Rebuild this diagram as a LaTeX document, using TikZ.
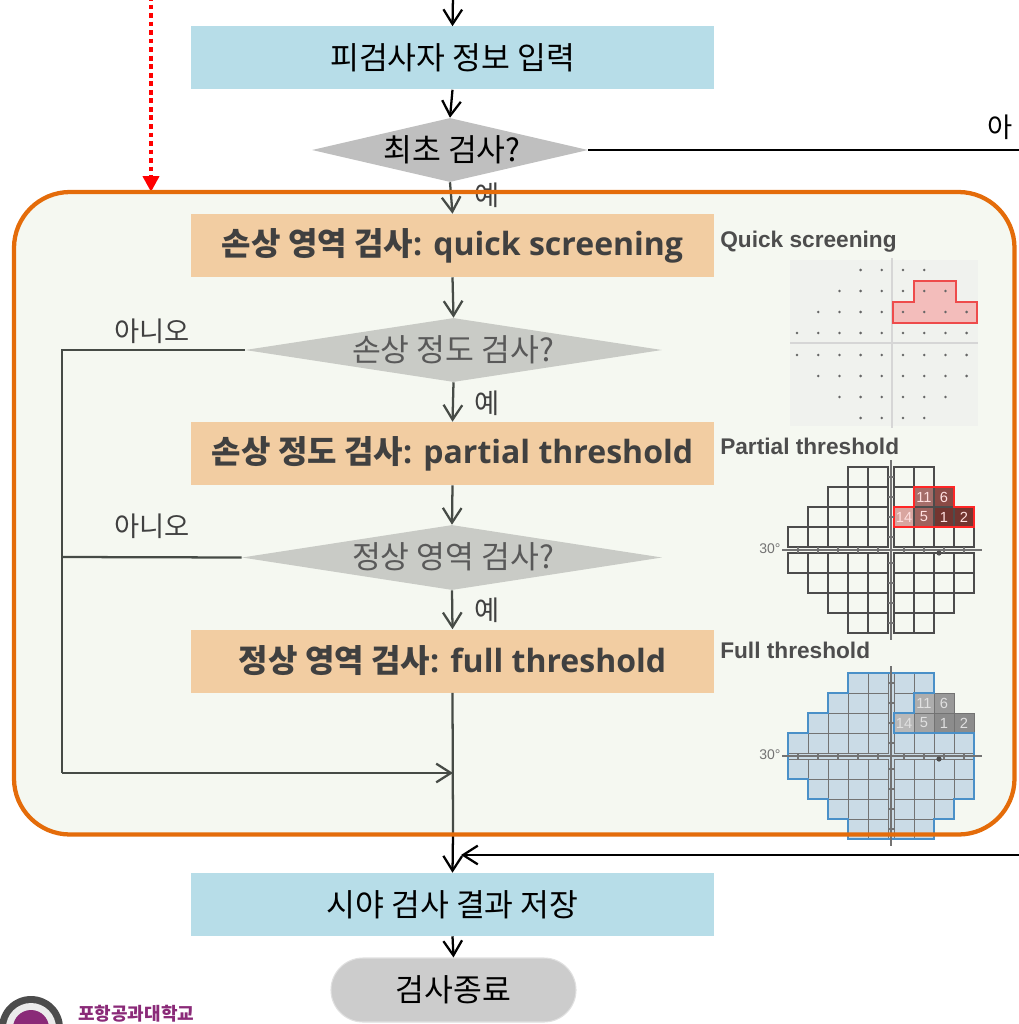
\documentclass[tikz,border=0pt]{standalone}
\usepackage{fontspec}
\setmainfont{Noto Sans CJK KR}
\newfontfamily\latinbold{Open Sans}
\newfontfamily\figfont{Liberation Sans}
\usetikzlibrary{arrows.meta,shapes.geometric}

\definecolor{boxblue}{HTML}{B7DDE8}
\definecolor{peach}{HTML}{F2CDA2}
\definecolor{decgray}{HTML}{BFBFBF}
\definecolor{decgray2}{HTML}{C9CBC6}
\definecolor{panelfill}{HTML}{F5F8F1}
\definecolor{panelline}{HTML}{E46C0A}
\definecolor{ink}{HTML}{404040}
\definecolor{inkline}{HTML}{464B46}
\definecolor{softink}{HTML}{595959}
\definecolor{endgray}{HTML}{CCCCCC}
\definecolor{figtxt}{HTML}{4D4D4D}
\definecolor{qsbg}{HTML}{F0F2EE}
\definecolor{qsred}{HTML}{EE4B4B}
\definecolor{qspink}{HTML}{F3BDBB}
\definecolor{vfblue}{HTML}{CADBE6}
\definecolor{vfedge}{HTML}{4A90C8}
\definecolor{logopurple}{HTML}{8A2A78}

\tikzset{
  flowbox/.style={rectangle, inner sep=0pt, minimum width=523*0.75pt, minimum height=63*0.75pt},
  bluebox/.style={flowbox, fill=boxblue, text=black, font=\fontsize{23.5}{26}\selectfont},
  peachbox/.style={flowbox, fill=peach, text=ink, font=\fontsize{24}{28}\selectfont\bfseries},
  decision/.style={diamond, inner sep=0pt, aspect=4},
  dectext/.style={inner sep=0pt, font=\fontsize{23.5}{26}\selectfont},
  endbox/.style={rectangle, rounded corners=24pt, fill=endgray, draw=black!12, line width=0.8pt,
    minimum width=245*0.75pt, minimum height=64*0.75pt, inner sep=0pt, font=\fontsize{23.5}{26}\selectfont},
  flow/.style={-{Straight Barb[length=11pt,width=14pt,line width=1.7pt]}, line width=1.7pt},
  flowin/.style={flow, draw=inkline},
  yesno/.style={inner sep=0pt, text=ink, font=\fontsize{20.5}{22}\selectfont},
  figtitle/.style={anchor=west, inner sep=0pt, text=figtxt, font=\figfont\bfseries\fontsize{17}{18}\selectfont},
  deg/.style={inner sep=0pt, text=black!55, font=\figfont\fontsize{10.5}{11}\selectfont},
  cellnum/.style={inner sep=0pt, font=\figfont\fontsize{11}{12}\selectfont},
}

% cell grid of a visual-field chart: rows given as top-y / cells left of axis / cells right of axis
\newcommand{\vfgrid}[1]{%
  \foreach \ry/\nl/\nr in {467/2/2, 487/3/3, 507/4/4, 527/5/4, 553/5/4, 573/4/4, 593/3/3, 613/2/2}{%
    \foreach \i in {1,...,\nl}{\draw[#1] (888-20*\i,\ry) rectangle (908-20*\i,\ry+20);}%
    \foreach \j in {1,...,\nr}{\draw[#1] (874+20*\j,\ry) rectangle (894+20*\j,\ry+20);}%
  }}
% axes with ticks at the cell centres
\newcommand{\vfaxes}{%
  \draw[black!55, line width=2pt] (782,550) -- (982,550);
  \draw[black!55, line width=2pt] (891,460) -- (891,640);
  \foreach \tx in {798,818,838,858,878,904,924,944,964}{\draw[black!55, line width=0.8pt] (\tx,547) -- (\tx,553);}
  \foreach \ty in {477,497,517,537,563,583,603,623}{\draw[black!55, line width=0.8pt] (888,\ty) -- (894,\ty);}
  \fill[black!70] (939,553) circle (2.6);
}

\begin{document}
\begin{tikzpicture}[x=0.75pt,y=-0.75pt]
\useasboundingbox (0,0) rectangle (1019,1024);

% panel of the threshold tests
\path[fill=panelfill, rounded corners=42pt] (14,192) rectangle (1014.5,834.5);

% ---------- flow nodes ----------
\node[bluebox] (input) at (452.5,58) {피검사자 정보 입력};
\node[decision, fill=decgray, minimum width=276*0.75pt, minimum height=64*0.75pt] (first) at (450,150) {};
\node[dectext, text=black] (firstt) at (452,150) {최초 검사?};

\node[peachbox] (quick) at (452.5,245.5) {손상 영역 검사{\latinbold: quick screening}};
\node[decision, fill=decgray2, minimum width=417*0.75pt, minimum height=64*0.75pt] (damage) at (453.5,350) {};
\node[dectext, text=softink] (damaget) at (453,350) {손상 정도 검사?};

\node[peachbox] (partial) at (452.5,453.5) {손상 정도 검사{\latinbold: partial threshold}};
\node[decision, fill=decgray2, minimum width=420*0.75pt, minimum height=65*0.75pt] (normal) at (452,557.5) {};
\node[dectext, text=softink] (normalt) at (453,557) {정상 영역 검사?};

\node[peachbox] (full) at (452.5,661) {정상 영역 검사{\latinbold: full threshold}};

\node[bluebox] (save) at (452.5,904.5) {시야 검사 결과 저장};
\node[endbox] (finish) at (453.5,990) {검사종료};

% ---------- connectors ----------
\coordinate (entry) at (453,-4);
\coordinate (skipout) at (1025,150);
\coordinate (skipin) at (1025,855);
\coordinate (skiptip) at (461,855);
\coordinate (exitpanel) at (453,834);
\coordinate (noleft1) at (62,350);
\coordinate (noleft2) at (62,557);
\coordinate (nobottom) at (62,773);
\coordinate (merge) at (453,773);
\coordinate (redtop) at (151,-4);
\coordinate (redtip) at (151,192);

\draw[flow] (entry) -- (input.north);
\draw[flow] (input.south) -- (first.north);
\draw[line width=1.7pt] (first.east) -- (skipout);
\node[yesno, text=black] (firstno) at (1000,127) {아};

\draw[flowin] (first.south) -- (quick.north);
\node[yesno, anchor=west] (yes1) at (474,195) {예};
\draw[flowin] (quick.south) -- (damage.north);
\draw[flowin] (damage.south) -- (partial.north);
\node[yesno, anchor=west] (yes2) at (474,403) {예};
\draw[flowin] (partial.south) -- (normal.north);
\draw[flowin] (normal.south) -- (full.north);
\node[yesno, anchor=west] (yes3) at (474,610) {예};

\draw[line width=1.7pt, draw=inkline] (damage.west) -- (noleft1) -- (nobottom);
\draw[flowin] (nobottom) -- (merge);
\draw[line width=1.7pt, draw=inkline] (normal.west) -- (noleft2);
\node[yesno] (no1) at (152,331) {아니오};
\node[yesno] (no2) at (152,526) {아니오};

\draw[line width=1.7pt, draw=inkline] (full.south) -- (exitpanel);
\draw[flow] (exitpanel) -- (save.north);
\draw[flow] (skipin) -- (skiptip);
\draw[flow] (save.south) -- (finish.north);

% red dotted jump into the panel
\draw[red, line width=3.6pt, dash pattern=on 3.6pt off 2.8pt, -{Triangle[length=12pt,width=12pt]}] (redtop) -- (redtip);

% ---------- quick screening chart ----------
\node[figtitle] (qstitle) at (720,242) {Quick screening};
\fill[qsbg] (790,260) rectangle (978,426);
\draw[black!16, line width=0.8pt] (790,343) -- (978,343);
\draw[black!16, line width=0.8pt] (892,258) -- (892,428);
\draw[qsred, fill=qspink, line width=1.6pt]
  (914,281) -- (956,281) -- (956,302) -- (977,302) -- (977,323) -- (893,323) -- (893,302) -- (914,302) -- cycle;
\foreach \dy/\ca/\cb in {270/3/6, 291/2/7, 312/1/8, 333/0/8, 355/0/8, 376/1/8, 397/2/7, 418/3/6}{
  \foreach \c in {\ca,...,\cb}{\fill[black!60] (797+21.2*\c,\dy) circle (1.4);}
}

% ---------- partial threshold chart ----------
\node[figtitle] (pttitle) at (720,446) {Partial threshold};
\fill[fill={rgb,255:red,217;green,166;blue,160}] (894,507) rectangle (914,527);
\fill[fill={rgb,255:red,165;green,110;blue,106}] (914,487) rectangle (934,507);
\fill[fill={rgb,255:red,158;green,98;blue,93}] (914,507) rectangle (934,527);
\fill[fill={rgb,255:red,138;green,74;blue,69}] (934,487) rectangle (954,507);
\fill[fill={rgb,255:red,115;green,53;blue,48}] (934,507) rectangle (974,527);
\vfgrid{black!70, line width=0.85pt}
\draw[red!85, line width=1.6pt]
  (914,487) -- (954,487) -- (954,507) -- (974,507) -- (974,527) -- (894,527) -- (894,507) -- (914,507) -- cycle;
\vfaxes
\node[deg] (ptdeg) at (770,549) {30°};
\foreach \nx/\ny/\nt in {904/517/14, 924/517/5, 944/517/1, 964/517/2, 924/497/11, 944/497/6}{
  \node[cellnum, text=white!88!red] at (\nx,\ny) {\nt};
}

% ---------- full threshold chart ----------
\node[figtitle] (fttitle) at (720,650) {Full threshold};
\begin{scope}[shift={(0,206)}]
  \fill[vfblue]
    (848,467) -- (934,467) -- (934,487) -- (914,487) -- (914,507) -- (894,507) -- (894,527) -- (974,527)
    -- (974,593) -- (954,593) -- (954,613) -- (934,613) -- (934,633) -- (848,633) -- (848,613) -- (828,613)
    -- (828,593) -- (808,593) -- (808,573) -- (788,573) -- (788,527) -- (808,527) -- (808,507) -- (828,507)
    -- (828,487) -- (848,487) -- cycle;
  \fill[black!28] (894,507) rectangle (914,527);
  \fill[black!32] (914,487) rectangle (934,507);
  \fill[black!36] (914,507) rectangle (934,527);
  \fill[black!40] (934,487) rectangle (954,507);
  \fill[black!45] (934,507) rectangle (974,527);
  \vfgrid{black!55, line width=0.7pt}
  \draw[vfedge, line width=1.6pt]
    (848,467) -- (934,467) -- (934,487) -- (914,487) -- (914,507) -- (894,507) -- (894,527) -- (974,527)
    -- (974,593) -- (954,593) -- (954,613) -- (934,613) -- (934,633) -- (848,633) -- (848,613) -- (828,613)
    -- (828,593) -- (808,593) -- (808,573) -- (788,573) -- (788,527) -- (808,527) -- (808,507) -- (828,507)
    -- (828,487) -- (848,487) -- cycle;
  \vfaxes
  \node[deg] (ftdeg) at (770,549) {30°};
  \foreach \nx/\ny/\nt in {904/517/14, 924/517/5, 944/517/1, 964/517/2, 924/497/11, 944/497/6}{
    \node[cellnum, text=black!12] at (\nx,\ny) {\nt};
  }
\end{scope}

% panel border on top
\draw[panelline, line width=3.2pt, rounded corners=42pt] (14,192) rectangle (1014.5,834.5);

% ---------- university mark ----------
\fill[black!70] (31,1028) circle (32);
\fill[black!8] (31,1028) circle (25);
\fill[logopurple] (31,1028) circle (18);
\node[inner sep=0pt, anchor=west, text=logopurple, font=\bfseries\fontsize{13.5}{14}\selectfont] (univ) at (78,1014) {포항공과대학교};
\end{tikzpicture}
\end{document}
